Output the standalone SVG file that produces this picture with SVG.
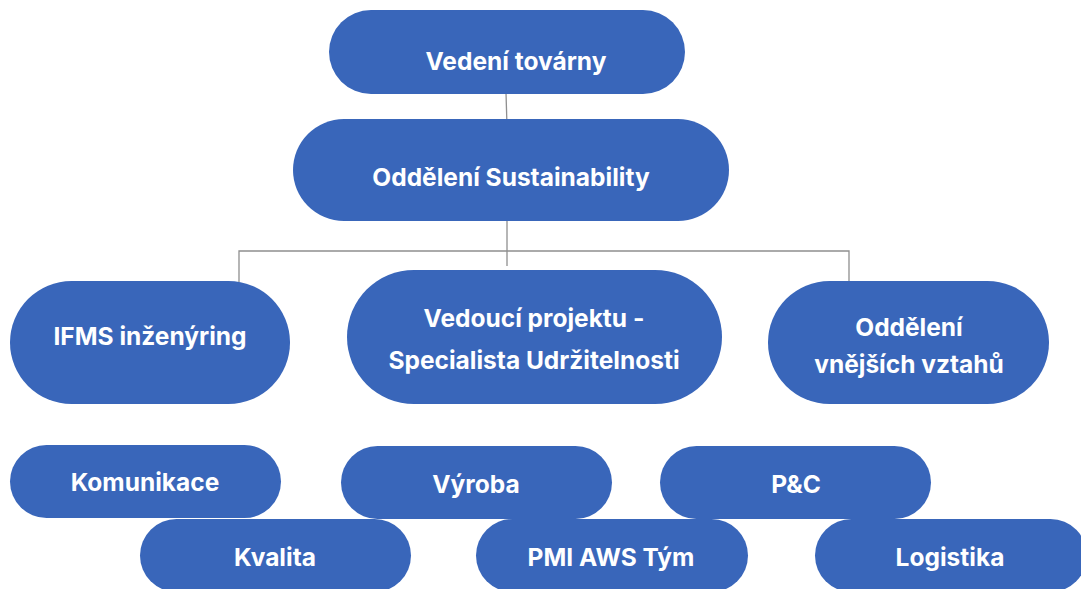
<svg xmlns="http://www.w3.org/2000/svg" width="1081" height="589" viewBox="0 0 1081 589">
<style>
.n{fill:#3966BA}
.t{fill:#fff;font-family:Inter,"Open Sans","Liberation Sans",sans-serif;font-weight:700;font-size:24.5px;text-anchor:middle;dominant-baseline:central}
.c{stroke:#8f8f8f;stroke-width:1.3;fill:none}
</style>
<rect width="1081" height="589" fill="#fff"/>
<g id="connectors">
<line class="c" x1="505.8" y1="86" x2="507" y2="126"/>
<line class="c" x1="507" y1="218" x2="507" y2="266"/>
<polyline class="c" points="239,282 239,251 849,251 849,282"/>
</g>
<g id="n1"><rect class="n" x="329" y="10" width="356" height="84" rx="42"/><text class="t" x="516" y="61">Vedení továrny</text></g>
<g id="n2"><rect class="n" x="293" y="119" width="436" height="102" rx="51"/><text class="t" x="511" y="177">Oddělení Sustainability</text></g>
<g id="n3"><rect class="n" x="10" y="281" width="280" height="123" rx="61.5"/><text class="t" x="150" y="336">IFMS inženýring</text></g>
<g id="n4"><rect class="n" x="347" y="270" width="375" height="134" rx="67"/><text class="t" x="534" y="318">Vedoucí projektu -</text><text class="t" x="534" y="360">Specialista Udržitelnosti</text></g>
<g id="n5"><rect class="n" x="768" y="281" width="281" height="123" rx="61.5"/><text class="t" x="909" y="327">Oddělení</text><text class="t" x="909" y="364">vnějších vztahů</text></g>
<g id="n6"><rect class="n" x="10" y="445" width="271" height="73" rx="36.5"/><text class="t" x="145" y="482">Komunikace</text></g>
<g id="n7"><rect class="n" x="341" y="446" width="271" height="73" rx="36.5"/><text class="t" x="476" y="484">Výroba</text></g>
<g id="n8"><rect class="n" x="660" y="446" width="271" height="73" rx="36.5"/><text class="t" x="796" y="484">P&amp;C</text></g>
<g id="n9"><rect class="n" x="140" y="519" width="271" height="73" rx="36.5"/><text class="t" x="275" y="557">Kvalita</text></g>
<g id="n10"><rect class="n" x="476" y="519" width="272" height="73" rx="36.5"/><text class="t" x="611" y="557">PMI AWS Tým</text></g>
<g id="n11"><rect class="n" x="815" y="519" width="272" height="73" rx="36.5"/><text class="t" x="950" y="557">Logistika</text></g>
</svg>
